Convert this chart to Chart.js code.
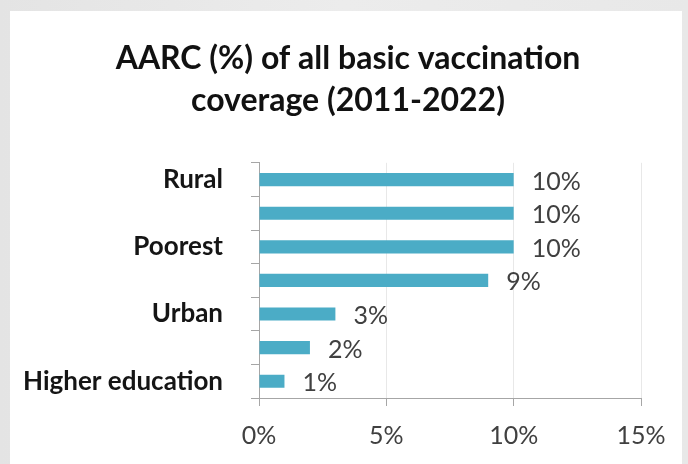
<!DOCTYPE html>
<html>
<head>
<meta charset="utf-8">
<script src="https://cdn.jsdelivr.net/npm/chart.js@4.4.1/dist/chart.umd.min.js"></script>
<style>
  html, body {
    margin: 0;
    padding: 0;
    width: 688px;
    height: 464px;
    overflow: hidden;
    background: linear-gradient(90deg, #e4e4e4 0%, #ececec 50%, #e8e8e8 100%);
  }
  .panel {
    position: absolute;
    left: 10px;
    top: 11px;
    width: 672px;
    height: 453px;
    background: #fff;
  }
  .chart-box {
    position: absolute;
    left: 0;
    top: 0;
    width: 688px;
    height: 464px;
  }
</style>
</head>
<body>
<div class="panel"></div>
<div class="chart-box">
  <canvas id="aarcChart"></canvas>
</div>

<script>
  // groups, top to bottom (only every other one carries a label)
  const groups = ['Rural', '', 'Poorest', '', 'Urban', '', 'Higher education']
  // AARC values in percent
  const aarcValues = [10, 10, 10, 9, 3, 2, 1]
  const xTicks = [0, 5, 10, 15]

  const titleLines = ['AARC (%) of all basic vaccination', 'coverage (2011-2022)']

  const barColor = '#4bacc6'
  const axisColor = '#a6a6a6'
  const textGray = '#404040'

  Chart.defaults.font.family = 'Lato'

  // value labels to the right of each bar
  const barValueLabels = {
    id: 'barValueLabels',
    afterDatasetsDraw(chart) {
      const ctx = chart.ctx
      const meta = chart.getDatasetMeta(0)
      ctx.save()
      ctx.font = '25px Lato'
      ctx.fillStyle = textGray
      ctx.textAlign = 'left'
      ctx.textBaseline = 'middle'
      meta.data.forEach((bar, i) => {
        ctx.fillText(aarcValues[i] + '%', bar.x + 18, bar.y + 2)
      })
      ctx.restore()
    }
  }

  new Chart(document.getElementById('aarcChart'), {
    type: 'bar',
    data: {
      labels: groups,
      datasets: [{
        data: aarcValues,
        backgroundColor: barColor,
        borderWidth: 0,
        categoryPercentage: 1,
        barPercentage: 0.39
      }]
    },
    plugins: [barValueLabels],
    options: {
      indexAxis: 'y',
      responsive: true,
      maintainAspectRatio: false,
      animation: false,
      layout: {
        // small right padding keeps the title centred over the panel;
        // the x scale reserves the real right margin itself
        padding: { top: 11, left: 10, right: 2, bottom: 0 }
      },
      plugins: {
        legend: { display: false },
        tooltip: { enabled: false },
        title: {
          display: true,
          text: titleLines,
          color: '#111',
          font: { size: 32, weight: 'bold', lineHeight: 1.31 },
          padding: { top: 27, bottom: 41 }
        }
      },
      scales: {
        x: {
          min: 0,
          max: 15,
          afterBuildTicks(scale) {
            scale.ticks = xTicks.map(v => ({ value: v }))
          },
          afterFit(scale) {
            scale.height = 66
            scale.paddingRight = 47
          },
          ticks: {
            color: textGray,
            font: { size: 25 },
            padding: 15,
            maxRotation: 0,
            callback: value => value + '%'
          },
          grid: {
            color: '#e8e8e8',
            tickColor: axisColor,
            tickLength: 8
          },
          border: { color: axisColor }
        },
        y: {
          afterFit(scale) {
            scale.width = 249
          },
          ticks: {
            color: '#151515',
            font: { size: 26, weight: 'bold' },
            padding: 28,
            autoSkip: false
          },
          grid: {
            offset: true,
            drawOnChartArea: false,
            tickColor: axisColor,
            tickLength: 8
          },
          border: { color: axisColor }
        }
      }
    }
  })
</script>
</body>
</html>
